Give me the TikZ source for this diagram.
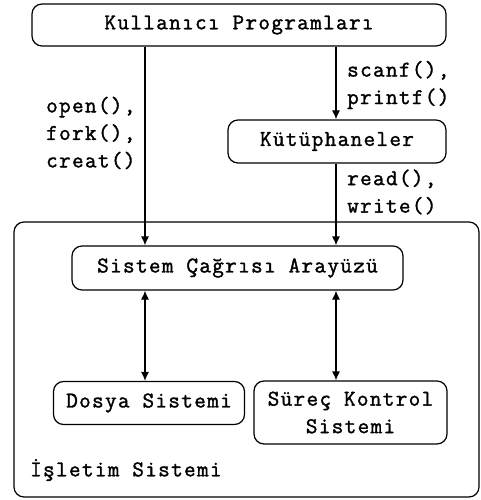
\documentclass[tikz,border=0pt]{standalone}
\usepackage{fontspec}
\setmainfont{Latin Modern Mono}[LetterSpace=6,FakeBold=1.5]
\usetikzlibrary{arrows.meta}
\begin{document}
\begin{tikzpicture}[x=1pt,y=-1pt,
  every node/.style={font=\fontsize{22.5}{27.5}\selectfont, inner sep=0pt},
  boxn/.style={draw, line width=1.2pt, rounded corners=10pt, minimum width=#1},
  lbl/.style={align=left, anchor=west},
  arr/.style={line width=1.2pt, -{Latex[length=9pt,width=8pt]}},
  darr/.style={line width=1.2pt, {Latex[length=9pt,width=8pt]}-{Latex[length=9pt,width=8pt]}}]
\useasboundingbox (0,0) rectangle (480,500);
\node[boxn=465, minimum height=275] (os) at (246.5,359.5) {};
\node[anchor=west] (ostxt) at (30,470) {İşletim Sistemi};
\node[boxn=414, minimum height=42] (top) at (239,25) {Kullanıcı Programları};
\node[boxn=218, minimum height=43] (lib) at (337,141.5) {Kütüphaneler};
\node[boxn=331, minimum height=44] (sci) at (237.5,268) {Sistem Çağrısı Arayüzü};
\node[boxn=191, minimum height=43] (fs) at (149,403) {Dosya Sistemi};
\node[boxn=193, minimum height=63, align=center] (pc) at (350.5,412.5) {Süreç Kontrol\\Sistemi};
\coordinate (xl) at (145,0);
\coordinate (xr) at (336,0);
\draw[arr] (top.south -| xl) -- (sci.north -| xl);
\draw[arr] (top.south -| xr) -- (lib.north -| xr);
\draw[arr] (lib.south -| xr) -- (sci.north -| xr);
\draw[darr] (sci.south -| xl) -- (fs.north -| xl);
\draw[darr] (sci.south -| xr) -- (pc.north -| xr);
\node[lbl] (l1) at (46,133) {open(),\\fork(),\\creat()};
\node[lbl] (l2) at (347,85) {scanf(),\\printf()};
\node[lbl] (l3) at (347,192) {read(),\\write()};
\end{tikzpicture}
\end{document}
